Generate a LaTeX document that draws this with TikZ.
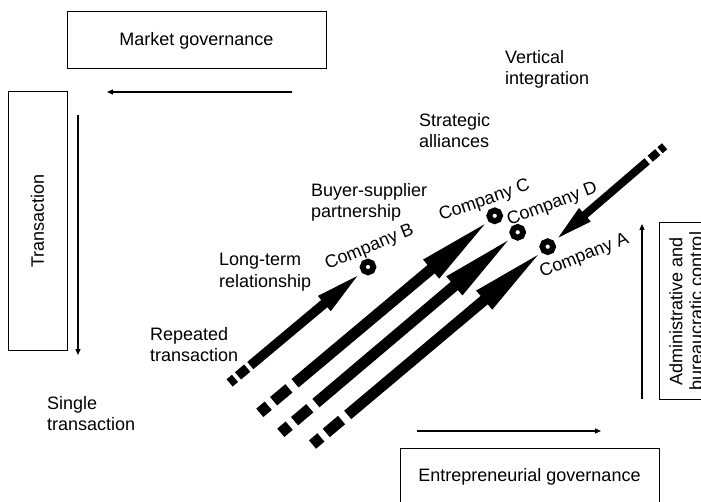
\documentclass[tikz,border=0pt]{standalone}
\usepackage{fontspec}
\setmainfont{Liberation Sans}
\usetikzlibrary{calc,arrows.meta}
\newcommand\blkarrow[7]{%
  \coordinate (bt) at ($(#2.center)!#3!(#1)$);
  \coordinate (bb) at ($(bt)!#4!(#1)$);
  \draw[line width=#6, dash pattern=#7] (#1) -- ($(bb)!-2pt!(#1)$);
  \fill (bt) -- ($(bb)!#5!90:(bt)$) -- ($(bb)!#5!-90:(bt)$) -- cycle;
}
\begin{document}
\begin{tikzpicture}[x=1pt,y=-1pt,
  every node/.style={font=\fontsize{18}{21.5}\selectfont},
  box/.style={draw, line width=1pt, inner sep=0pt},
  lbl/.style={anchor=north west, inner sep=0pt, align=left},
  comp/.style={inner sep=0pt},
  ring/.style={draw, circle, line width=5.8pt, minimum size=10.8pt, inner sep=0pt},
  thinarrow/.style={line width=1.3pt, -{Triangle[length=6pt,width=5pt]}},
]
\clip (0,0) rectangle (701,502);
\fill[white] (0,0) rectangle (701,502);

% boxes
\node[box, minimum width=259pt, minimum height=57pt] (mg) at (196.5,40.5) {Market governance};
\node[box, rotate=90, minimum width=258pt, minimum height=59pt] (tr) at (37.5,221) {Transaction};
\node[box, minimum width=259pt, minimum height=57.8pt] (eg) at (529.5,476.9) {Entrepreneurial governance};
\node[box, rotate=90, minimum width=176pt, minimum height=54pt, align=center,
      font=\fontsize{18}{20}\selectfont] (ad) at (686,311) {Administrative and\\bureaucratic control};

% thin arrows
\coordinate (h1s) at (292,92);  \coordinate (h1e) at (107,92);
\coordinate (v1s) at (78,115);  \coordinate (v1e) at (78,355);
\coordinate (h2s) at (417,431); \coordinate (h2e) at (601,431);
\coordinate (v2s) at (642,399); \coordinate (v2e) at (642,224);
\draw[thinarrow] (h1s) -- (h1e);
\draw[thinarrow] (v1s) -- (v1e);
\draw[thinarrow] (h2s) -- (h2e);
\draw[thinarrow] (v2s) -- (v2e);

% stage labels
\node[lbl] (vi) at (505,50) {Vertical\\integration};
\node[lbl] (sa) at (419,113) {Strategic\\alliances};
\node[lbl] (bs) at (311,183) {Buyer-supplier\\partnership};
\node[lbl] (lt) at (219,253) {Long-term\\relationship};
\node[lbl] (rt) at (150,327) {Repeated\\transaction};
\node[lbl] (st) at (47,396) {Single\\transaction};

% company rings
\node[ring] (rB) at (368,267) {};
\node[ring] (rC) at (494.7,215.8) {};
\node[ring] (rD) at (517.7,232.3) {};
\node[ring] (rA) at (547.7,246.7) {};

% company labels
\node[comp, rotate=22.5] (lB) at (369.7,247.8) {Company B};
\node[comp, rotate=19.4] (lC) at (484.7,201) {Company C};
\node[comp, rotate=20.7] (lD) at (552.4,204.6) {Company D};
\node[comp, rotate=22] (lA) at (584.4,256.1) {Company A};

% tails
\coordinate (tB) at (229.6,382.9);
\coordinate (tC) at (259.8,412.8);
\coordinate (tD) at (280.8,432.8);
\coordinate (tA) at (312.5,444.5);
\coordinate (tR) at (664.6,146.3);

% block arrows
\blkarrow{tB}{rB}{14pt}{43pt}{10pt}{9.5pt}{on 7pt off 4pt on 12pt off 4pt on 3000pt}
\blkarrow{tC}{rC}{13pt}{70pt}{12.5pt}{11pt}{on 11pt off 7pt on 20pt off 8pt on 3000pt}
\blkarrow{tD}{rD}{13pt}{70pt}{12.5pt}{11pt}{on 11pt off 7pt on 20pt off 8pt on 3000pt}
\blkarrow{tA}{rA}{13pt}{70pt}{12.5pt}{11pt}{on 11pt off 7pt on 20pt off 8pt on 3000pt}
\blkarrow{tR}{rA}{14pt}{35pt}{9pt}{8pt}{on 6pt off 3pt on 10pt off 4pt on 3000pt}
\end{tikzpicture}
\end{document}
